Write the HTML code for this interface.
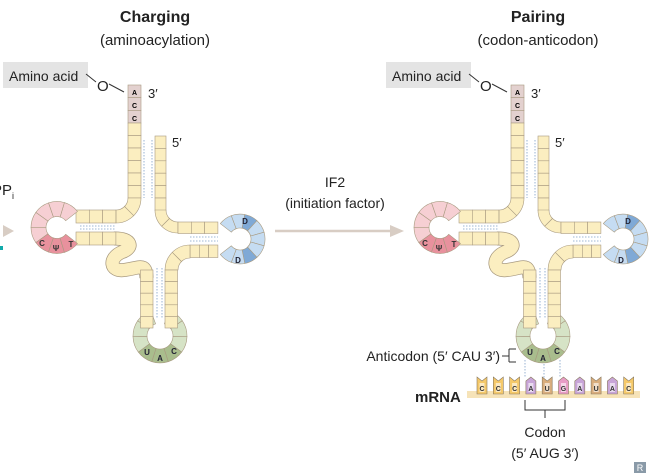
<!DOCTYPE html>
<html><head><meta charset="utf-8"><style>
body{margin:0;background:#fff;}
svg{display:block;font-family:"Liberation Sans",sans-serif;}
</style></head><body>
<svg id="s" width="658" height="475" viewBox="0 0 658 475">
<g text-anchor="middle" fill="#222">
<text x="155" y="22" font-size="16" font-weight="bold">Charging</text>
<text x="155" y="45" font-size="15">(aminoacylation)</text>
<text x="538" y="22" font-size="16" font-weight="bold">Pairing</text>
<text x="538" y="45" font-size="15">(codon-anticodon)</text>
<text x="335" y="187" font-size="14">IF2</text>
<text x="335" y="208" font-size="14">(initiation factor)</text>
</g>
<g>
<line x1="275" y1="231" x2="393" y2="231" stroke="#d8cdc4" stroke-width="2.5"/>
<polygon points="390,225 404,231 390,237" fill="#d8cdc4"/>
<polygon points="3,225 14,231 3,237" fill="#d8cdc4"/>
<text x="-8" y="195" font-size="15" fill="#222">PP<tspan font-size="9" dy="4">i</tspan></text>
<rect x="0" y="246" width="3" height="4" fill="#1aa" />
</g>
<g id="t1"></g>
<g id="t2" transform="translate(383,0)"></g>
<g id="mrna"></g>
<g>
<text x="500" y="361" font-size="14" text-anchor="end" fill="#222">Anticodon (5′ CAU 3′)</text>
<path d="M502,356 H509 M509,349 V362 M509,349 H516 M509,362 H516" stroke="#333" fill="none"/>
</g>
<text x="415" y="402" font-size="15" font-weight="bold" fill="#222">mRNA</text>
<g>
<path d="M525,400 V410 H565 V400 M545,410 V418" stroke="#333" fill="none"/>
<text x="545" y="437" font-size="14" text-anchor="middle" fill="#222">Codon</text>
<text x="545" y="458" font-size="14" text-anchor="middle" fill="#222">(5′ AUG 3′)</text>
</g>
<g><rect x="634" y="462" width="12" height="11" fill="#8a9aa8"/><text x="640" y="471" font-size="9" fill="#fff" text-anchor="middle">R</text></g>
</svg>
<script>
const codons=["C","C","C","A","U","G","A","U","A","C"];
const ntColors={C:"#f5c96a",A:"#c8a5d8",U:"#d9ad7d",G:"#e89cc6"};
const Y="#fbeec0",OL="#a89a80";
function strip(x,y,w,h,n,dir,fill){let s="";for(let i=0;i<n;i++){const xx=dir==="v"?x:x+i*w,yy=dir==="v"?y+i*h:y;s+=`<rect x="${xx}" y="${yy}" width="${w}" height="${h}" fill="${fill}" stroke="${OL}" stroke-width="0.6"/>`;}return s;}
function arc(cx,cy,r1,r2,a0,a1,n,fills){let s="";const d=(a1-a0)/n;for(let i=0;i<n;i++){const A=(a0+i*d)*Math.PI/180,B=(a0+(i+1)*d)*Math.PI/180;const p=(r,a)=>`${(cx+r*Math.cos(a)).toFixed(1)},${(cy+r*Math.sin(a)).toFixed(1)}`;const sw=d>0?1:0;s+=`<path d="M${p(r1,A)} L${p(r2,A)} A${r2},${r2} 0 0 ${sw} ${p(r2,B)} L${p(r1,B)} A${r1},${r1} 0 0 ${1-sw} ${p(r1,A)}Z" fill="${fills[i]}" stroke="${OL}" stroke-width="0.6"/>`;}return s;}
function trna(){
let s="";
s+=`<rect x="3" y="62" width="85" height="26" fill="#e4e4e4"/><text x="9" y="81" font-size="14" fill="#222">Amino acid</text>`;
s+=`<path d="M86,74 L96,82 M109,84 L124,92" stroke="#333" fill="none"/><text x="97" y="91" font-size="15" fill="#222">O</text>`;
s+=`<text x="148" y="98" font-size="13" fill="#222">3′</text><text x="172" y="147" font-size="13" fill="#222">5′</text>`;
s+=`<g stroke="#7fa0c8" stroke-width="0.8" stroke-dasharray="1.5,1.5"><line x1="144" y1="140" x2="144" y2="198"/><line x1="152" y1="140" x2="152" y2="198"/><line x1="80" y1="226" x2="116" y2="226"/><line x1="80" y1="229" x2="116" y2="229"/><line x1="190" y1="237" x2="218" y2="237"/><line x1="190" y1="241" x2="218" y2="241"/><line x1="157" y1="268" x2="157" y2="318"/><line x1="162" y1="268" x2="162" y2="318"/></g>`;
const vp="M114,238.5 C132,238 134,248 122,252 C108,258 110,272 124,270 C140,268 146,262 146.5,278";
s+=`<path d="${vp}" stroke="${OL}" stroke-width="14" fill="none"/><path d="${vp}" stroke="${Y}" stroke-width="12.5" fill="none"/>`;
s+=strip(128,85,13,12.7,3,"v","#e3d1cf");
s+=`<text x="134.5" y="95" font-size="7" font-weight="bold" text-anchor="middle">A</text><text x="134.5" y="108" font-size="7" font-weight="bold" text-anchor="middle">C</text><text x="134.5" y="121" font-size="7" font-weight="bold" text-anchor="middle">C</text>`;
s+=strip(128,123,13,12.5,6,"v",Y);
s+=arc(116,198,12,25,0,90,2,[Y,Y]);
s+=strip(76,210,13.3,13,3,"h",Y);
s+=strip(76,232,13.3,13,3,"h",Y);
const pk="#f6cfd3",pd="#e8919d";
s+=arc(57,227.5,11,26,-38,-322,8,[pk,pk,pk,pk,pk,pd,pd,pd]);
s+=`<g font-size="8" font-weight="bold" text-anchor="middle" fill="#333"><text x="42" y="246">C</text><text x="56" y="251">Ψ</text><text x="71" y="247">T</text></g>`;
s+=strip(155,136,11,12.4,6,"v",Y);
s+=arc(178,210,12,23,180,90,2,[Y,Y]);
s+=strip(178,222,13.3,11.5,3,"h",Y);
s+=strip(190,245,9.3,12.5,3,"h",Y);
s+=arc(190,270,12,25,180,270,2,[Y,Y]);
const bl="#c5dcf2",bd="#7fa9d6";
s+=arc(240,239,11,25,-142,142,9,[bl,bl,bd,bl,bl,bl,bd,bl,bl]);
s+=`<g font-size="8" font-weight="bold" text-anchor="middle" fill="#223"><text x="245" y="224">D</text><text x="238" y="263">D</text></g>`;
const gl="#d6e3c6",gd="#a9bd8d";
s+=arc(160,336,13,27,-70,250,9,[gl,gl,gl,gd,gd,gd,gl,gl,gl]);
s+=strip(140.5,270,12.5,11.6,5,"v",Y);
s+=strip(165,270,12.5,11.6,5,"v",Y);
s+=`<g font-size="8" font-weight="bold" text-anchor="middle" fill="#223"><text x="147" y="355">U</text><text x="160" y="361">A</text><text x="174" y="354">C</text></g>`;
return s;}
document.getElementById("t1").innerHTML=trna();
document.getElementById("t2").innerHTML=trna();
const m=document.getElementById("mrna");
let ms=`<rect x="467" y="391" width="173" height="7" fill="#f6e3b8"/><g stroke="#7fa0c8" stroke-width="0.8" stroke-dasharray="1.5,1.5"><line x1="525" y1="360" x2="525" y2="378"/><line x1="544" y1="364" x2="544" y2="378"/><line x1="560" y1="360" x2="560" y2="378"/></g>`;
codons.forEach((c,i)=>{const x=477+i*16.3,w=10,top=377,bot=394;const pt=(c==="A"||c==="G");
const d=pt?`M${x},${bot} V${top+4} L${x+w/2},${top} L${x+w},${top+4} V${bot}Z`:`M${x},${bot} V${top} L${x+w/2},${top+4} L${x+w},${top} V${bot}Z`;
ms+=`<g><path d="${d}" fill="${ntColors[c]}" stroke="#8a7a60" stroke-width="0.6"/><rect x="${x+2.5}" y="${top+6}" width="5" height="9" fill="#fff" opacity="0.6"/><text x="${x+5}" y="${bot-3}" font-size="7" font-weight="bold" text-anchor="middle" fill="#333">${c}</text></g>`;});
m.innerHTML=ms;
</script>
</body></html>
